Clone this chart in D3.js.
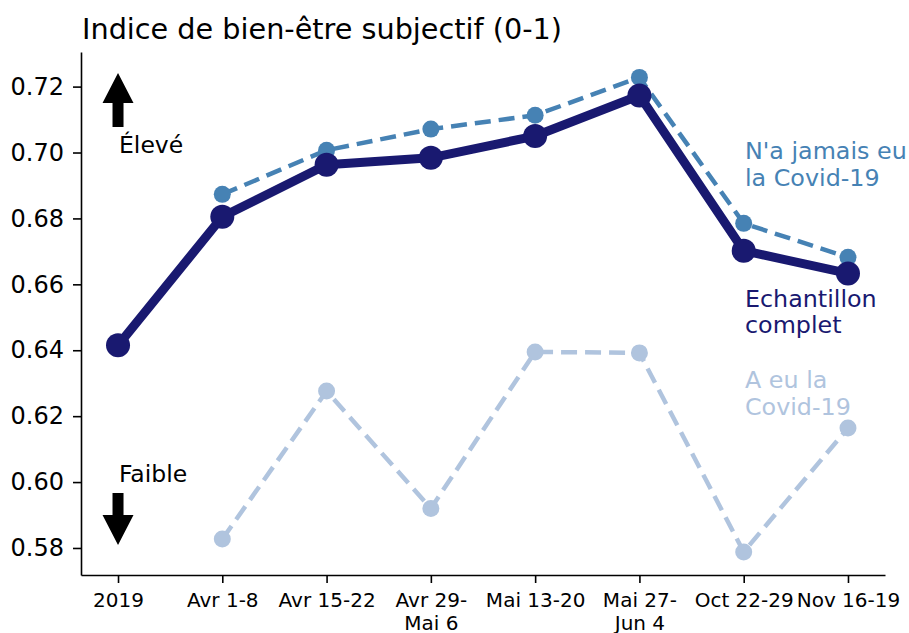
<!DOCTYPE html>
<html>
<head>
<meta charset="utf-8">
<script src="https://cdn.jsdelivr.net/npm/d3@7"></script>
<style>
  body { margin: 0; background: #fff; }
  text { font-family: "DejaVu Sans", sans-serif; }
</style>
</head>
<body>
<div id="chart"></div>
<script>
var periods = ["2019", "Avr 1-8", "Avr 15-22", "Avr 29-\nMai 6", "Mai 13-20", "Mai 27-\nJun 4", "Oct 22-29", "Nov 16-19"];
var fullSample = [0.6415, 0.6805, 0.6963, 0.6984, 0.7050, 0.7173, 0.6702, 0.6633];
var neverCovid = [null, 0.6873, 0.7007, 0.7071, 0.7113, 0.7228, 0.6785, 0.6682];
var hadCovid = [null, 0.5827, 0.6276, 0.5920, 0.6395, 0.6392, 0.5788, 0.6164];
var yTicks = [0.58, 0.60, 0.62, 0.64, 0.66, 0.68, 0.70, 0.72];

var width = 909,
    height = 633;

var x = d3.scaleLinear().domain([-0.355, 7.355]).range([81, 885]);
var y = d3.scaleLinear().domain([0.5718, 0.7305]).range([575, 52]);

var svg = d3.select("#chart").append("svg")
    .attr("width", width)
    .attr("height", height);

svg.append("text")
    .attr("x", 82)
    .attr("y", 39)
    .style("font-size", "28.7px")
    .text("Indice de bien-être subjectif (0-1)");

// axes
var yAxis = svg.append("g")
    .attr("transform", "translate(81,0)")
    .call(d3.axisLeft(y).tickValues(yTicks).tickFormat(d3.format(".2f")).tickSize(8).tickSizeOuter(0).tickPadding(9));
yAxis.selectAll("text").style("font-size", "24px").attr("fill", "#000");

var xAxis = svg.append("g")
    .attr("transform", "translate(0,575)")
    .call(d3.axisBottom(x).tickValues(d3.range(periods.length)).tickFormat("").tickSize(8).tickSizeOuter(0));

[yAxis, xAxis].forEach(function(a) {
    a.select(".domain").attr("stroke", "#000").attr("stroke-width", 1.6);
    a.selectAll(".tick line").attr("stroke", "#000").attr("stroke-width", 1.6);
});

xAxis.selectAll(".tick").each(function(d) {
    var lines = periods[d].split("\n");
    var t = d3.select(this).append("text")
        .attr("fill", "#000")
        .attr("text-anchor", "middle")
        .style("font-size", "20px");
    lines.forEach(function(l, i) {
        t.append("tspan").attr("x", 0).attr("y", 32 + i * 23).text(l);
    });
});

// series
function drawSeries(values, color, lw, r, dash) {
    var pts = values.map(function(v, i) { return [i, v]; }).filter(function(d) { return d[1] != null; });
    var line = d3.line()
        .x(function(d) { return x(d[0]); })
        .y(function(d) { return y(d[1]); });
    svg.append("path")
        .datum(pts)
        .attr("d", line)
        .attr("fill", "none")
        .attr("stroke", color)
        .attr("stroke-width", lw)
        .attr("stroke-linejoin", "round")
        .attr("stroke-dasharray", dash);
    svg.selectAll(null)
        .data(pts)
        .enter().append("circle")
        .attr("cx", function(d) { return x(d[0]); })
        .attr("cy", function(d) { return y(d[1]); })
        .attr("r", r)
        .attr("fill", color);
}

drawSeries(hadCovid, "#b0c4de", 4.5, 8.5, "16,8");
drawSeries(neverCovid, "#4682b4", 4.5, 8.5, "16,8");
drawSeries(fullSample, "#191970", 9, 12, null);

// series labels
function label(lines, yy, color) {
    var t = svg.append("text").attr("fill", color).style("font-size", "23.8px");
    lines.forEach(function(l, i) {
        t.append("tspan").attr("x", 745).attr("y", yy + i * 26.7).text(l);
    });
}
label(["N'a jamais eu", "la Covid-19"], 159, "#4682b4");
label(["Echantillon", "complet"], 306.7, "#191970");
label(["A eu la", "Covid-19"], 388, "#b0c4de");

// arrows
var ax = x(0);
svg.append("path")
    .attr("d", "M" + ax + ",73 L" + (ax + 15.5) + ",103 L" + (ax + 5.5) + ",103 L" + (ax + 5.5) + ",127 L" + (ax - 5.5) + ",127 L" + (ax - 5.5) + ",103 L" + (ax - 15.5) + ",103 Z")
    .attr("fill", "#000");
svg.append("path")
    .attr("d", "M" + ax + ",545 L" + (ax + 15.5) + ",515 L" + (ax + 5.5) + ",515 L" + (ax + 5.5) + ",493 L" + (ax - 5.5) + ",493 L" + (ax - 5.5) + ",515 L" + (ax - 15.5) + ",515 Z")
    .attr("fill", "#000");
svg.append("text").attr("x", 119).attr("y", 152.5).style("font-size", "23.5px").text("Élevé");
svg.append("text").attr("x", 119).attr("y", 481.5).style("font-size", "23.5px").text("Faible");
</script>
</body>
</html>
